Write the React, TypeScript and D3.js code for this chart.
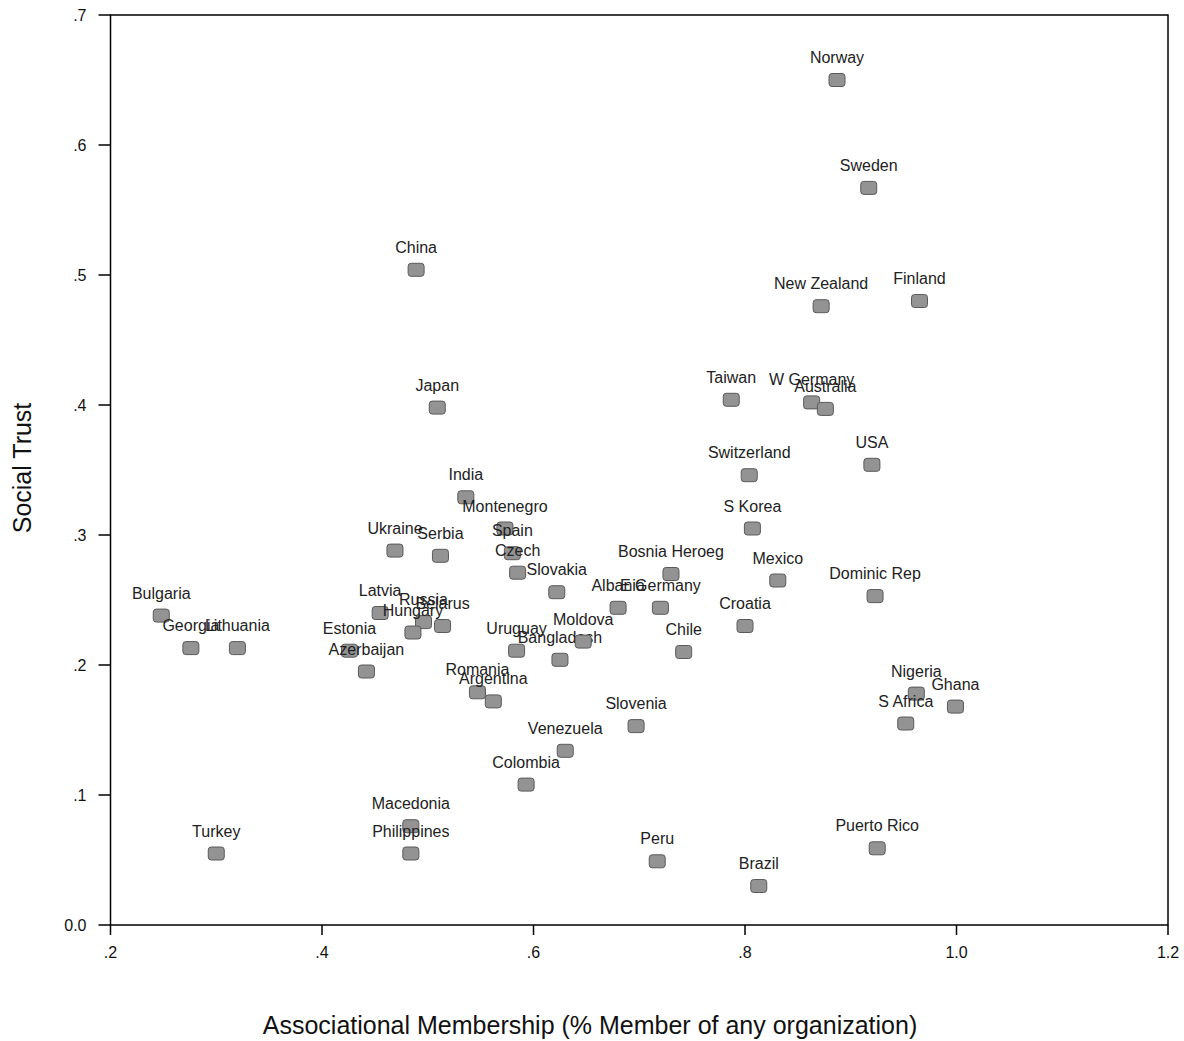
import React from "react";
import * as d3 from "d3";

const countries = [
  "Norway","Sweden","China","New Zealand","Finland","Japan","Taiwan","W Germany","Australia","USA",
  "Switzerland","India","Montenegro","Spain","Czech","Slovakia","Ukraine","Serbia","S Korea","Bosnia Heroeg",
  "Mexico","Dominic Rep","Albania","E Germany","Croatia","Chile","Bulgaria","Georgia","Lithuania","Latvia",
  "Russia","Belarus","Hungary","Estonia","Azerbaijan","Uruguay","Bangladesh","Moldova","Romania","Argentina",
  "Slovenia","Venezuela","Colombia","Nigeria","Ghana","S Africa","Macedonia","Philippines","Turkey","Peru",
  "Brazil","Puerto Rico",
];
const membership = [
  0.887,0.917,0.489,0.872,0.965,0.509,0.787,0.863,0.876,0.920,
  0.804,0.536,0.573,0.580,0.585,0.622,0.469,0.512,0.807,0.730,
  0.831,0.923,0.680,0.720,0.800,0.742,0.248,0.276,0.320,0.455,
  0.496,0.514,0.486,0.426,0.442,0.584,0.625,0.647,0.547,0.562,
  0.697,0.630,0.593,0.962,0.999,0.952,0.484,0.484,0.300,0.717,
  0.813,0.925,
];
const trust = [
  0.650,0.567,0.504,0.476,0.480,0.398,0.404,0.402,0.397,0.354,
  0.346,0.329,0.305,0.286,0.271,0.256,0.288,0.284,0.305,0.270,
  0.265,0.253,0.244,0.244,0.230,0.210,0.238,0.213,0.213,0.240,
  0.233,0.230,0.225,0.211,0.195,0.211,0.204,0.218,0.179,0.172,
  0.153,0.134,0.108,0.178,0.168,0.155,0.076,0.055,0.055,0.049,
  0.030,0.059,
];
const xTicks = [0.2, 0.4, 0.6, 0.8, 1.0, 1.2];
const xTickLabels = [".2", ".4", ".6", ".8", "1.0", "1.2"];
const yTicks = [0, 0.1, 0.2, 0.3, 0.4, 0.5, 0.6, 0.7];
const yTickLabels = ["0.0", ".1", ".2", ".3", ".4", ".5", ".6", ".7"];
const xTitle = "Associational Membership (% Member of any organization)";
const yTitle = "Social Trust";

const W = 1184, H = 1041;
const L = 110.5, R = 1168, T = 15, B = 925;
const FONT = "'Liberation Sans', Arial, sans-serif";

export default function App() {
  const x = d3.scaleLinear().domain([0.2, 1.2]).range([L, R]);
  const y = d3.scaleLinear().domain([0, 0.7]).range([B, T]);
  return (
    <svg width={W} height={H} style={{ position: "absolute", left: 0, top: 0, background: "#fff" }}
      fontFamily={FONT}>
      <rect x={0} y={0} width={W} height={H} fill="#fff" />
      <rect x={L} y={T} width={R - L} height={B - T} fill="none" stroke="#000" strokeWidth={1.5} />
      {yTicks.map((t, i) => (
        <g key={"yt" + i}>
          <line x1={L - 12} x2={L} y1={y(t)} y2={y(t)} stroke="#000" strokeWidth={1.5} />
          <text x={L - 24} y={y(t) + 5.5} textAnchor="end" fontSize={16} fill="#111">{yTickLabels[i]}</text>
        </g>
      ))}
      {xTicks.map((t, i) => (
        <g key={"xt" + i}>
          <line x1={x(t)} x2={x(t)} y1={B} y2={B + 10} stroke="#000" strokeWidth={1.5} />
          <text x={x(t)} y={B + 33} textAnchor="middle" fontSize={16} fill="#111">{xTickLabels[i]}</text>
        </g>
      ))}
      <text x={590} y={1034} textAnchor="middle" fontSize={25} fill="#111">{xTitle}</text>
      <text transform={`translate(31,${468}) rotate(-90)`} textAnchor="middle" fontSize={25} fill="#111">{yTitle}</text>
      {countries.map((c, i) => (
        <g key={c}>
          <rect x={x(membership[i]) - 8} y={y(trust[i]) - 6.5} width={16} height={13} rx={3}
            fill="#939393" stroke="#5a5a5a" strokeWidth={1} />
          <text x={x(membership[i])} y={y(trust[i]) - 17} textAnchor="middle" fontSize={16} fill="#222">{c}</text>
        </g>
      ))}
    </svg>
  );
}
